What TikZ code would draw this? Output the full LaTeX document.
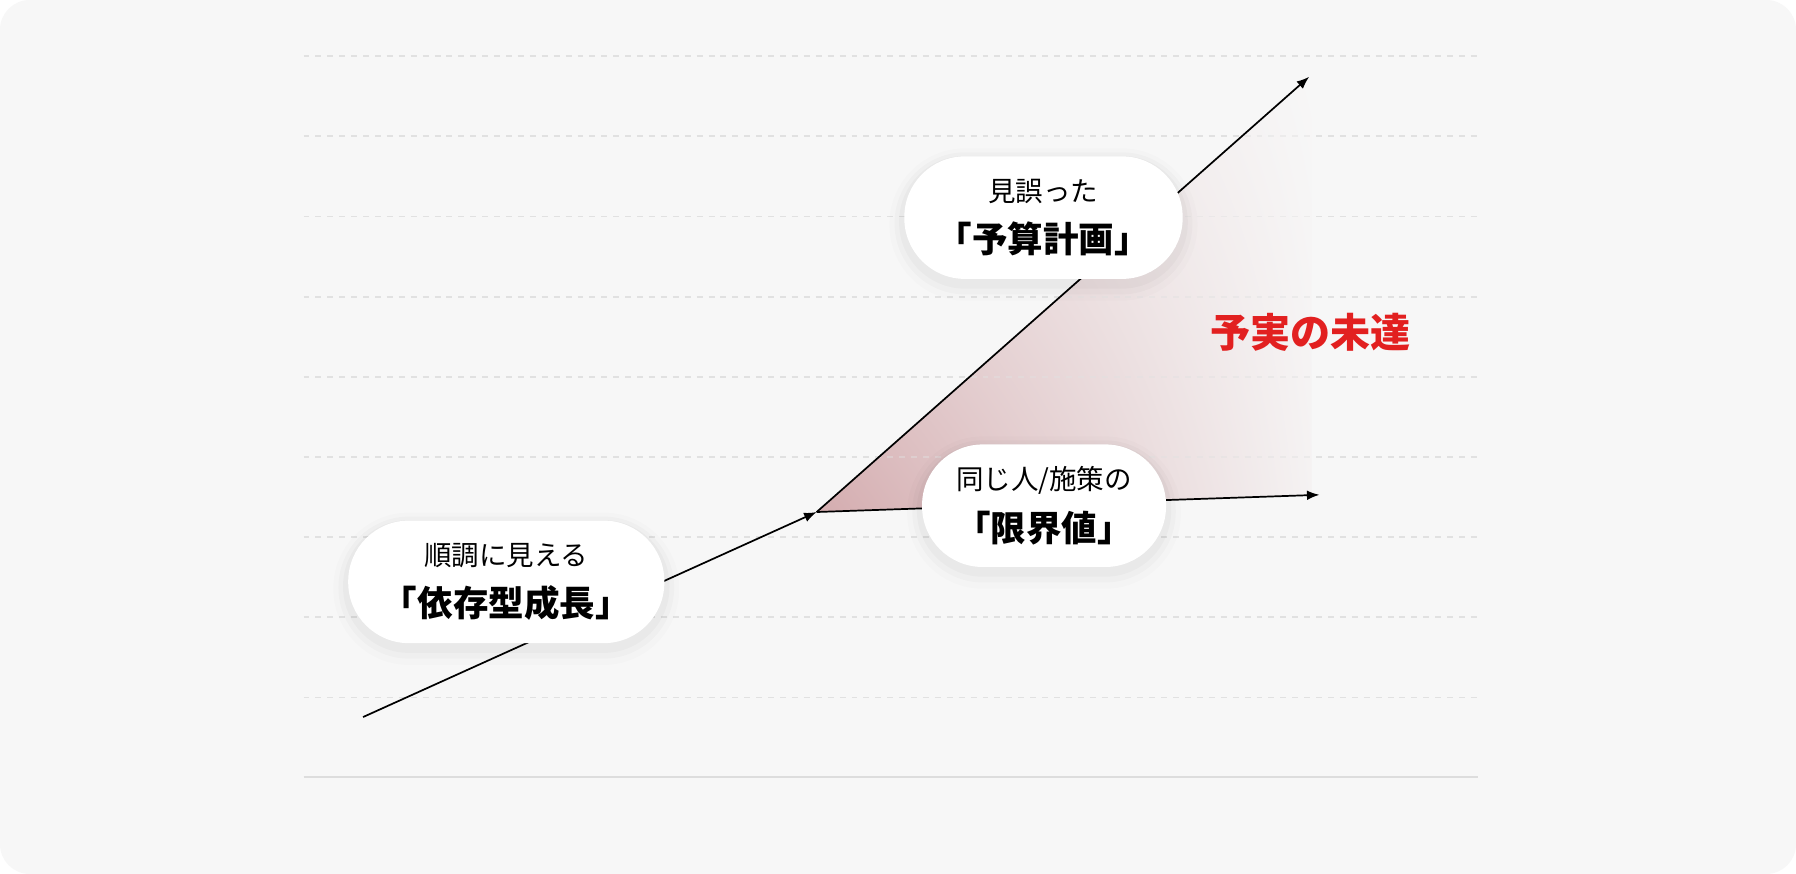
\documentclass[tikz,border=0pt]{standalone}
\usepackage{fontspec}
\setmainfont{Noto Sans CJK JP}
\usetikzlibrary{arrows.meta,shadings}
\definecolor{bgc}{HTML}{F7F7F7}
\definecolor{gridc}{HTML}{E1E1E1}
\definecolor{basec}{HTML}{DDDDDD}
\definecolor{pinkc}{RGB}{212,172,175}
\definecolor{redc}{RGB}{226,32,32}
\begin{document}
\begin{tikzpicture}[x=1pt,y=-1pt,
  gridline/.style={gridc, line width=1.6pt, dash pattern=on 5.2pt off 5.2pt},
  baseline/.style={basec, line width=1.6pt},
  trend/.style={black, line width=1.5pt, -{Latex[length=11pt,width=8.5pt]}},
  pill/.style={fill=white, rounded corners=53pt, minimum height=107pt, inner sep=0pt,
    align=center, font=\fontsize{24}{45}\selectfont,
    preaction={draw=black, draw opacity=0.012, line width=26pt, transform canvas={yshift=-6pt}},
    preaction={draw=black, draw opacity=0.018, line width=17pt, transform canvas={yshift=-5pt}},
    preaction={draw=black, draw opacity=0.025, line width=9pt, transform canvas={yshift=-4pt}}},
  gaplabel/.style={font=\fontsize{35}{40}\selectfont\bfseries, text=redc, inner sep=0pt}]
\useasboundingbox (0,0) rectangle (1568,763);
\fill[white] (0,0) rectangle (1568,763);
\fill[bgc, rounded corners=26pt] (0,0) rectangle (1568,763);
% grid
\foreach \yy in {49,119,189,259,329,399,469,539,609}
  \draw[gridline] (265,\yy) -- (1290,\yy);
\draw[baseline] (265,678) -- (1290,678);
% key points
\coordinate (start) at (317,626);
\coordinate (apex) at (713,447);
\coordinate (plantip) at (1143,67);
\coordinate (limittip) at (1152,432);
\coordinate (shTop) at (1145,67);
\coordinate (shBot) at (1145,432.2);
% shaded gap
\shade[upper left=pinkc!32!bgc, upper right=bgc, lower left=pinkc, lower right=pinkc!7!bgc]
  (apex) -- (plantip) -- (shTop) -- (shBot) -- cycle;
% grid seen faintly through the gap
\begin{scope}
  \clip (apex) -- (plantip) -- (shTop) -- (shBot) -- cycle;
  \foreach \yy in {119,189,259,329,399}
    \draw[gridline, draw opacity=0.45] (265,\yy) -- (1290,\yy);
\end{scope}
% trend lines
\draw[trend] (start) -- (apex);
\draw[trend] (apex) -- (plantip);
\draw[trend] (apex) -- (limittip);
% bubbles
\node[pill, minimum width=243pt] (bubPlan) at (911,190)
  {見誤った\\{\fontsize{31}{45}\selectfont\bfseries 「予算計画」}};
\node[pill, minimum width=213pt] (bubLimit) at (911.5,441.5)
  {同じ人/施策の\\{\fontsize{31}{45}\selectfont\bfseries 「限界値」}};
\node[pill, minimum width=276pt] (bubDep) at (442,508)
  {順調に見える\\{\fontsize{31}{45}\selectfont\bfseries 「依存型成長」}};
\node[gaplabel] (gap) at (1144,290) {予実の未達};
\end{tikzpicture}
\end{document}
